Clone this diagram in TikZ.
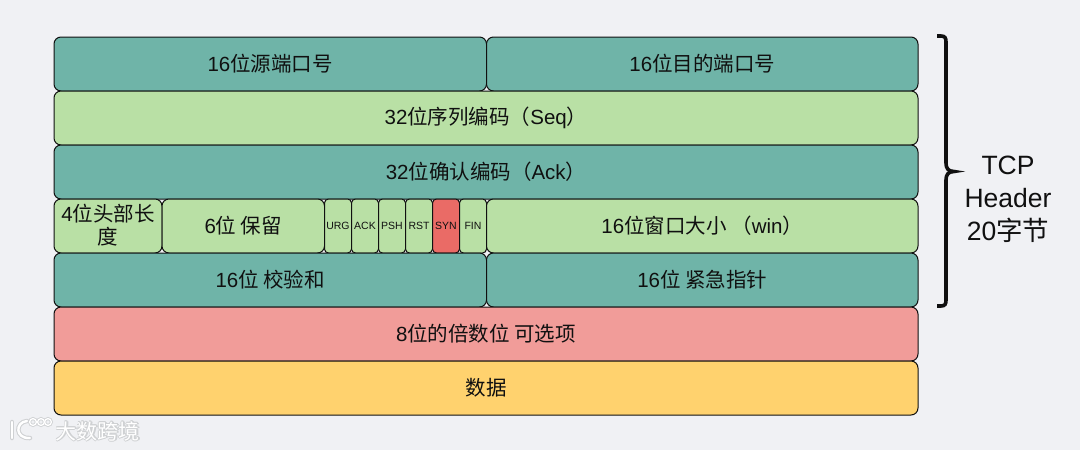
\documentclass[tikz,border=0pt]{standalone}
\usepackage{fontspec}
\setmainfont{Liberation Sans}
\newfontfamily\cjk{Noto Sans CJK SC}
\newcommand{\zh}[1]{{\cjk #1}}
\definecolor{bgc}{HTML}{F0F1F4}
\definecolor{teal}{HTML}{6FB4A8}
\definecolor{lgreen}{HTML}{B9E0A5}
\definecolor{pinkc}{HTML}{F19C99}
\definecolor{orangec}{HTML}{FFD26E}
\definecolor{redc}{HTML}{EA6B66}
\definecolor{inkc}{HTML}{101010}
\definecolor{glowc}{HTML}{CFD1D3}
\tikzset{
 x=1pt,y=-1pt,
 cell/.style={draw=inkc,line width=1pt,rounded corners=#1},
 cell/.default=7pt,
 lab/.style={font=\fontsize{20.5}{24}\selectfont,text=inkc,inner sep=0pt,align=center},
 flag/.style={font=\fontsize{10.5}{12}\selectfont,text=inkc,inner sep=0pt},
 wmtext/.style={font=\cjk\fontsize{21}{24}\selectfont,inner sep=0pt},
}
\newcommand{\cellbox}[7][7pt]{%
 \draw[cell=#1,fill=#6] (#2,#3) rectangle (#4,#5);
 \node[lab] at ({(#2+#4)/2},{(#3+#5)/2-0.5}) {#7};}
\begin{document}
\begin{tikzpicture}
\useasboundingbox[fill=bgc] (0,0) rectangle (1080,450);
\cellbox{54}{37}{486.5}{91}{teal}{16\zh{位源端口号}}
\cellbox{486.5}{37}{918}{91}{teal}{16\zh{位目的端口号}}
\cellbox{54}{91}{918}{145}{lgreen}{32\zh{位序列编码（}Seq\zh{）}}
\cellbox{54}{145}{918}{199}{teal}{32\zh{位确认编码（}Ack\zh{）}}
\cellbox{54}{199}{162}{253}{lgreen}{4\zh{位头部长}\\[-1pt]\zh{度}}
\cellbox{162}{199}{324.5}{253}{lgreen}{6\zh{位 保留}}
\foreach \a/\b/\t/\c in {324.5/351.5/URG/lgreen,351.5/378.5/ACK/lgreen,378.5/405.5/PSH/lgreen,405.5/432.5/RST/lgreen,432.5/459.5/SYN/redc,459.5/486.5/FIN/lgreen}{
 \draw[cell=4pt,fill=\c] (\a,199) rectangle (\b,253);
 \node[flag] at ({(\a+\b)/2},226) {\t};
}
\cellbox{486.5}{199}{918}{253}{lgreen}{16\zh{位窗口大小 （}win\zh{）}}
\cellbox{54}{253}{486.5}{307}{teal}{16\zh{位 校验和}}
\cellbox{486.5}{253}{918}{307}{teal}{16\zh{位 紧急指针}}
\cellbox{54}{307}{918}{361}{pinkc}{8\zh{位的倍数位 可选项}}
\cellbox{54}{361}{918}{415}{orangec}{\zh{数据}}
% brace
\draw[line width=3.6pt,inkc] (937,36) -- (941,36) .. controls (945,36) and (946,38) .. (946,42)
  -- (946,163) .. controls (946,168) and (948,171.5) .. (954,171.5)
  .. controls (948,171.5) and (946,175) .. (946,180)
  -- (946,300) .. controls (946,304) and (945,306) .. (941,306) -- (937,306);
\node[font=\fontsize{26.5}{33}\selectfont,text=inkc,align=center,inner sep=0pt] at (1008,199.5) {TCP\\Header\\20\zh{字节}};
% watermark
\draw[glowc,line width=4.5pt,line cap=round] (12,422) -- (12,438);
\draw[glowc,line width=4.5pt,line cap=round] (27,421) .. controls (15,422) and (15,439) .. (30,438);
\draw[white,line width=2.4pt,line cap=round] (12,422) -- (12,438);
\draw[white,line width=2.4pt,line cap=round] (27,421) .. controls (15,422) and (15,439) .. (30,438);
\foreach \cx in {33,41,48}{
 \draw[glowc,line width=3pt] (\cx,422) circle (3.4);
}
\foreach \cx in {33,41,48}{
 \draw[white,line width=1.3pt] (\cx,422) circle (3.4);
}
\foreach \dx/\dy in {1/0,-1/0,0/1,0/-1,0.8/0.8,-0.8/0.8,0.8/-0.8,-0.8/-0.8}{
 \node[wmtext,text=glowc] at (98+\dx,431+\dy) {大数跨境};
}
\node[wmtext,text=white] at (98,431) {大数跨境};
\end{tikzpicture}
\end{document}
